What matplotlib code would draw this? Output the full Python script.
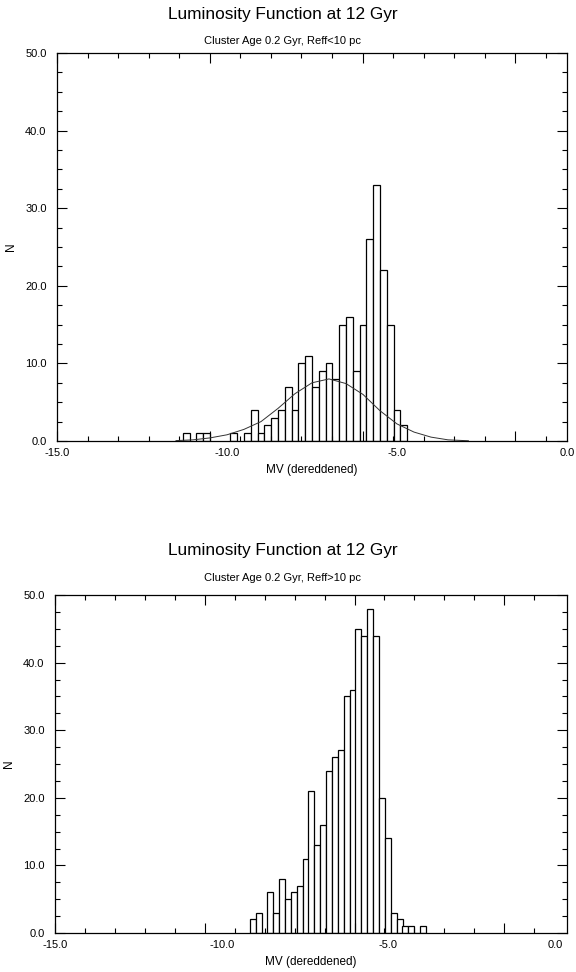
import matplotlib
matplotlib.use("Agg")
import matplotlib.pyplot as plt
from matplotlib.ticker import MultipleLocator, FixedLocator, FormatStrFormatter, NullFormatter

plt.rcParams['font.family'] = ['Liberation Sans', 'DejaVu Sans']
plt.rcParams['axes.unicode_minus'] = False

# -- data -- #

# upper panel: Reff < 10 pc, 0.2 mag bins (left edges)
top_left = [-11.3, -10.9, -10.7, -9.9, -9.5, -9.3, -9.1, -8.9, -8.7, -8.5,
            -8.3, -8.1, -7.9, -7.7, -7.5, -7.3, -7.1, -6.9, -6.7, -6.5,
            -6.3, -6.1, -5.9, -5.7, -5.5, -5.3, -5.1, -4.9]
top_count = [1, 1, 1, 1, 1, 4, 1, 2, 3, 4,
             7, 4, 10, 11, 7, 9, 10, 8, 15, 16,
             9, 15, 26, 33, 22, 15, 4, 2]
top_width = 0.2

# gaussian fit drawn over the upper histogram
fit_mv = [-11.5, -11.0, -10.5, -10.0, -9.5, -9.0, -8.5, -8.0, -7.5, -7.0,
          -6.5, -6.0, -5.5, -5.0, -4.5, -4.0, -3.5, -2.9]
fit_n = [0.05, 0.15, 0.4, 0.8, 1.5, 2.5, 4.2, 6.1, 7.5, 8.0,
         7.4, 6.0, 3.9, 2.2, 1.15, 0.5, 0.15, 0.03]

# lower panel: Reff > 10 pc
bot_left = [-9.16, -8.98, -8.81, -8.63, -8.45, -8.28, -8.10, -7.92, -7.75, -7.57,
            -7.40, -7.22, -7.04, -6.87, -6.69, -6.51, -6.34, -6.16, -5.99, -5.81,
            -5.63, -5.46, -5.28, -5.11, -4.93, -4.75, -4.58, -4.40, -4.22, -4.05]
bot_count = [2, 3, 0, 6, 3, 8, 5, 6, 7, 11,
             21, 13, 16, 24, 26, 27, 35, 36, 45, 44,
             48, 44, 20, 14, 3, 2, 1, 1, 0, 1]
bot_width = 0.176

title = "Luminosity Function at 12 Gyr"
subtitles = ["Cluster Age 0.2 Gyr, Reff<10 pc", "Cluster Age 0.2 Gyr, Reff>10 pc"]
x_ticks = [-15.0, -10.0, -5.0, 0.0]

W, H = 576, 972

# the tick marks of the original program do not sit under the labels:
# they step by ~0.9 label units, a long one every fifth
tick_step = 0.8986
long_marks = [-15 + tick_step * k for k in range(0, 17, 5)]
short_marks = [-15 + tick_step * k for k in range(17) if k % 5]


def style_axes(ax, xmax, sub, top_px):
    ax.set_xlim(-15, xmax)
    ax.set_ylim(0, 50)

    # tick marks (no labels) on all four sides
    ax.xaxis.set_major_locator(FixedLocator(long_marks))
    ax.xaxis.set_minor_locator(FixedLocator(short_marks))
    ax.xaxis.set_major_formatter(NullFormatter())
    ax.yaxis.set_major_locator(MultipleLocator(10))
    ax.yaxis.set_minor_locator(MultipleLocator(2.5))
    ax.yaxis.set_major_formatter(FormatStrFormatter('%.1f'))
    ax.tick_params(which='both', direction='in', top=True, right=True,
                   labelsize=8, width=0.8)
    ax.tick_params(which='major', length=7)
    ax.tick_params(which='minor', length=3.5)
    ax.tick_params(axis='y', pad=7.5)
    for s in ax.spines.values():
        s.set_linewidth(0.9)

    # the value labels along x
    sec = ax.secondary_xaxis('bottom')
    sec.set_xticks(x_ticks)
    sec.xaxis.set_major_formatter(FormatStrFormatter('%.1f'))
    sec.tick_params(length=0, labelsize=8, pad=5)
    sec.spines['bottom'].set_visible(False)
    sec.set_xlabel("MV (dereddened)", fontsize=8.5, labelpad=4)

    ax.set_ylabel("N", fontsize=8.5, labelpad=6)

    fig.text(283 / W, 1 - (top_px - 39) / H, title, ha='center',
             va='center', fontsize=12.4)
    fig.text(283 / W, 1 - (top_px - 12) / H, sub, ha='center',
             va='center', fontsize=8)


fig = plt.figure(figsize=(W / 100, H / 100), dpi=100)

# upper panel
ax1 = fig.add_axes([57 / W, 1 - 441 / H, 510 / W, 388 / H])
ax1.bar(top_left, top_count, width=top_width, align='edge',
        facecolor='white', edgecolor='black', linewidth=0.9)
ax1.plot(fit_mv, fit_n, color='#333333', linewidth=0.7)
style_axes(ax1, 0.0, subtitles[0], 53)

# lower panel
ax2 = fig.add_axes([55 / W, 1 - 933 / H, 512 / W, 338 / H])
ax2.bar(bot_left, bot_count, width=bot_width, align='edge',
        facecolor='white', edgecolor='black', linewidth=0.9)
style_axes(ax2, 0.36, subtitles[1], 590)

fig.savefig("out.png", dpi=100)
